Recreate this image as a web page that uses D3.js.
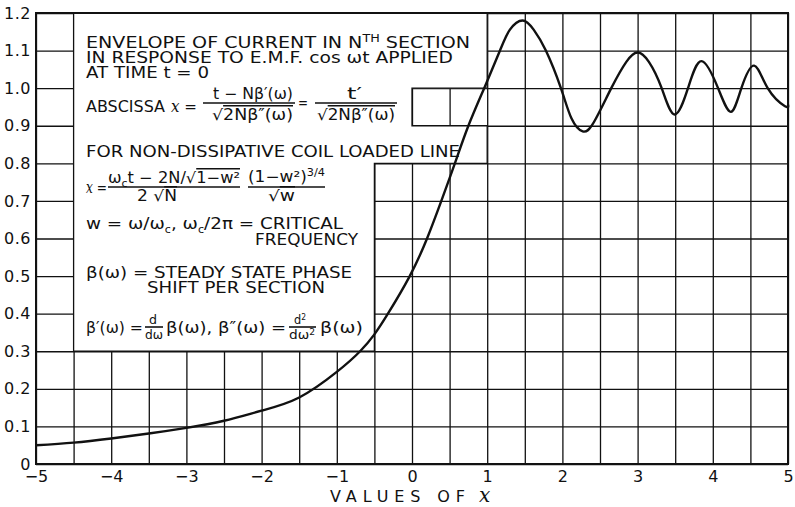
<!DOCTYPE html>
<html>
<head>
<meta charset="utf-8">
<script src="https://cdn.jsdelivr.net/npm/d3@7"></script>
<style>
  body { margin: 0; background: #fff; }
  svg { display: block; }
  .grid line { stroke: #111; stroke-width: 1.3; }
  .grid path { display: none; }
  .ticks path { display: none; }
  .ticks text { font-family: "DejaVu Sans", sans-serif; fill: #111; }
</style>
</head>
<body>
<svg id="chart"></svg>
<script>
// curve: envelope vs x
var curveX = [-5, -4.5, -4, -3.5, -3, -2.5, -2, -1.5, -1, -0.69, -0.5, -0.32, -0.03, 0.2, 0.39, 0.57, 0.75, 0.96,
              1.17, 1.3, 1.47, 1.62, 1.78, 1.98, 2.12, 2.27, 2.42, 2.65, 2.85, 3.0, 3.15, 3.32, 3.49, 3.67,
              3.85, 4.07, 4.24, 4.38, 4.55, 4.73, 4.96, 5];
var curveY = [0.050, 0.057, 0.068, 0.081, 0.096, 0.115, 0.142, 0.177, 0.245, 0.30, 0.345, 0.40, 0.50, 0.60, 0.70, 0.80, 0.90, 1.00,
              1.10, 1.155, 1.18, 1.155, 1.10, 1.00, 0.92, 0.885, 0.91, 1.00, 1.07, 1.095, 1.07, 1.00, 0.93, 1.00,
              1.072, 1.00, 0.937, 1.00, 1.06, 1.00, 0.952, 0.956];

var xTickValues = [-5, -4, -3, -2, -1, 0, 1, 2, 3, 4, 5];
var xTickLabels = ['\u22125', '\u22124', '\u22123', '\u22122', '\u22121', '0', '1', '2', '3', '4', '5'];
var yTickValues = [0, 0.1, 0.2, 0.3, 0.4, 0.5, 0.6, 0.7, 0.8, 0.9, 1.0, 1.1, 1.2];
var yTickLabels = ['0', '0.1', '0.2', '0.3', '0.4', '0.5', '0.6', '0.7', '0.8', '0.9', '1.0', '1.1', '1.2'];

// grid cells hidden behind the text panel (in data units)
var panelX = [-4.5, 1, 1, 0, 0, 1, 1, -0.5, -0.5, -4.5];
var panelY = [1.2, 1.2, 1.0, 1.0, 0.9, 0.9, 0.8, 0.8, 0.3, 0.3];

var svgWidth = 795, svgHeight = 507;
var plotLeft = 36, plotRight = 788, plotTop = 13, plotBottom = 464;

var svg = d3.select('#chart').attr('width', svgWidth).attr('height', svgHeight);

var x = d3.scaleLinear().domain([-5, 5]).range([plotLeft, plotRight]);
var y = d3.scaleLinear().domain([0, 1.2]).range([plotBottom, plotTop]);

// grid every 0.5 in x and 0.1 in y
svg.append('g').attr('class', 'grid')
   .attr('transform', `translate(0,${plotBottom})`)
   .call(d3.axisBottom(x).tickValues(d3.range(-5, 5.01, 0.5)).tickSize(-(plotBottom - plotTop)).tickFormat(''));
svg.append('g').attr('class', 'grid')
   .attr('transform', `translate(${plotLeft},0)`)
   .call(d3.axisLeft(y).tickValues(yTickValues).tickSize(-(plotRight - plotLeft)).tickFormat(''));

// white panel for the notes, its edges sit on grid lines
var panel = panelX.map(function (d, i) { return [x(d), y(panelY[i])]; });
svg.append('path')
   .attr('d', 'M' + panel.join('L') + 'Z')
   .attr('fill', '#fff').attr('stroke', '#111').attr('stroke-width', 1.3);

// frame
svg.append('rect')
   .attr('x', plotLeft).attr('y', plotTop).attr('width', plotRight - plotLeft).attr('height', plotBottom - plotTop)
   .attr('fill', 'none').attr('stroke', '#111').attr('stroke-width', 2);

// the curve
var curveLine = d3.line()
   .x(function (d, i) { return x(curveX[i]); })
   .y(function (d) { return y(d); })
   .curve(d3.curveNatural);
svg.append('path')
   .attr('d', curveLine(curveY))
   .attr('fill', 'none').attr('stroke', '#111').attr('stroke-width', 2.4);

// tick labels
svg.append('g').attr('class', 'ticks')
   .attr('transform', `translate(0,${plotBottom})`)
   .call(d3.axisBottom(x).tickValues(xTickValues).tickSize(0).tickPadding(7)
         .tickFormat(function (d, i) { return xTickLabels[i]; }))
   .selectAll('text').attr('font-size', 16);
svg.append('g').attr('class', 'ticks')
   .attr('transform', `translate(${plotLeft},0)`)
   .call(d3.axisLeft(y).tickValues(yTickValues).tickSize(0).tickPadding(5)
         .tickFormat(function (d, i) { return yTickLabels[i]; }))
   .selectAll('text').attr('font-size', 16).attr('letter-spacing', 0.5);

svg.append('text')
   .attr('x', 330).attr('y', 502)
   .attr('font-family', 'DejaVu Sans, sans-serif').attr('font-size', 16).attr('fill', '#111')
   .attr('textLength', 135).attr('lengthAdjust', 'spacing')
   .text('VALUES   OF');
svg.append('text')
   .attr('x', 479).attr('y', 502)
   .attr('font-family', 'DejaVu Serif, serif').attr('font-style', 'italic').attr('font-size', 20).attr('fill', '#111')
   .text('x');

// notes in the panel
var ann = svg.append('g')
   .attr('font-family', 'DejaVu Sans, sans-serif').attr('fill', '#111');

function txt(px, py, html, len, size) {
   var t = ann.append('text').attr('x', px).attr('y', py).attr('font-size', size || 16.5);
   t.html(html);
   if (len) t.attr('textLength', len).attr('lengthAdjust', 'spacingAndGlyphs');
   return t;
}
function bar(x0, x1, py) {
   ann.append('line').attr('x1', x0).attr('x2', x1).attr('y1', py).attr('y2', py)
      .attr('stroke', '#111').attr('stroke-width', 1.6);
}
var rad = '<tspan style="text-decoration:overline">';

txt(86, 48, 'ENVELOPE OF CURRENT IN N<tspan font-size="11" dy="-6">TH</tspan><tspan dy="6"> SECTION</tspan>', 384);
txt(86, 63, 'IN RESPONSE TO E.M.F. cos \u03c9t APPLIED', 367);
txt(86, 78, 'AT TIME t = 0', 123);

txt(86, 112, 'ABSCISSA', 79);
txt(171, 112, '<tspan font-style="italic" font-family="DejaVu Serif">x</tspan> =', 26);
txt(213, 99, 't \u2212 N\u03b2\u2032(\u03c9)', 80, 15);
bar(203, 295, 103);
txt(212, 120, '\u221a' + rad + '2N\u03b2\u2033(\u03c9)</tspan>', 81, 15);
txt(298, 108, '=', 10);
txt(347, 99, 't\u2032', 15, 15);
bar(315, 397, 103);
txt(317, 120, '\u221a' + rad + '2N\u03b2\u2033(\u03c9)</tspan>', 78, 15);

txt(86, 157, 'FOR NON-DISSIPATIVE COIL LOADED LINE', 374);

txt(86, 193, '<tspan font-style="italic" font-family="DejaVu Serif">x</tspan> =', 21);
txt(108, 183, '\u03c9<tspan font-size="10" dy="4">c</tspan><tspan dy="-4">t \u2212 2N/\u221a' + rad + '1\u2212w\u00b2</tspan></tspan>', 132, 15);
bar(108, 240, 187);
txt(137, 201, '2 \u221a' + rad + 'N</tspan>', 40, 15);
txt(248, 182, '(1\u2212w\u00b2)<tspan font-size="10" dy="-6">3/4</tspan>', 77, 15);
bar(248, 325, 187);
txt(268, 201, '\u221a' + rad + 'w</tspan>', 27, 15);

txt(86, 229, 'w = \u03c9/\u03c9<tspan font-size="10" dy="4">c</tspan><tspan dy="-4">, \u03c9</tspan><tspan font-size="10" dy="4">c</tspan><tspan dy="-4">/2\u03c0 = CRITICAL</tspan>', 257);
txt(255, 245, 'FREQUENCY', 103);

txt(86, 278, '\u03b2(\u03c9) = STEADY STATE PHASE', 266);
txt(147, 293, 'SHIFT PER SECTION', 178);

txt(86, 333, '\u03b2\u2032(\u03c9) =', 57);
txt(149, 324, 'd', 8, 12);
bar(145, 163, 327);
txt(145, 339, 'd\u03c9', 18, 12);
txt(166, 333, '\u03b2(\u03c9), \u03b2\u2033(\u03c9) =', 120);
txt(294, 324, 'd<tspan font-size="8" dy="-4">2</tspan>', 12, 12);
bar(289, 316, 327);
txt(289, 339, 'd\u03c9<tspan font-size="8" dy="-4">2</tspan>', 26, 12);
txt(320, 333, '\u03b2(\u03c9)', 43);
</script>
</body>
</html>
